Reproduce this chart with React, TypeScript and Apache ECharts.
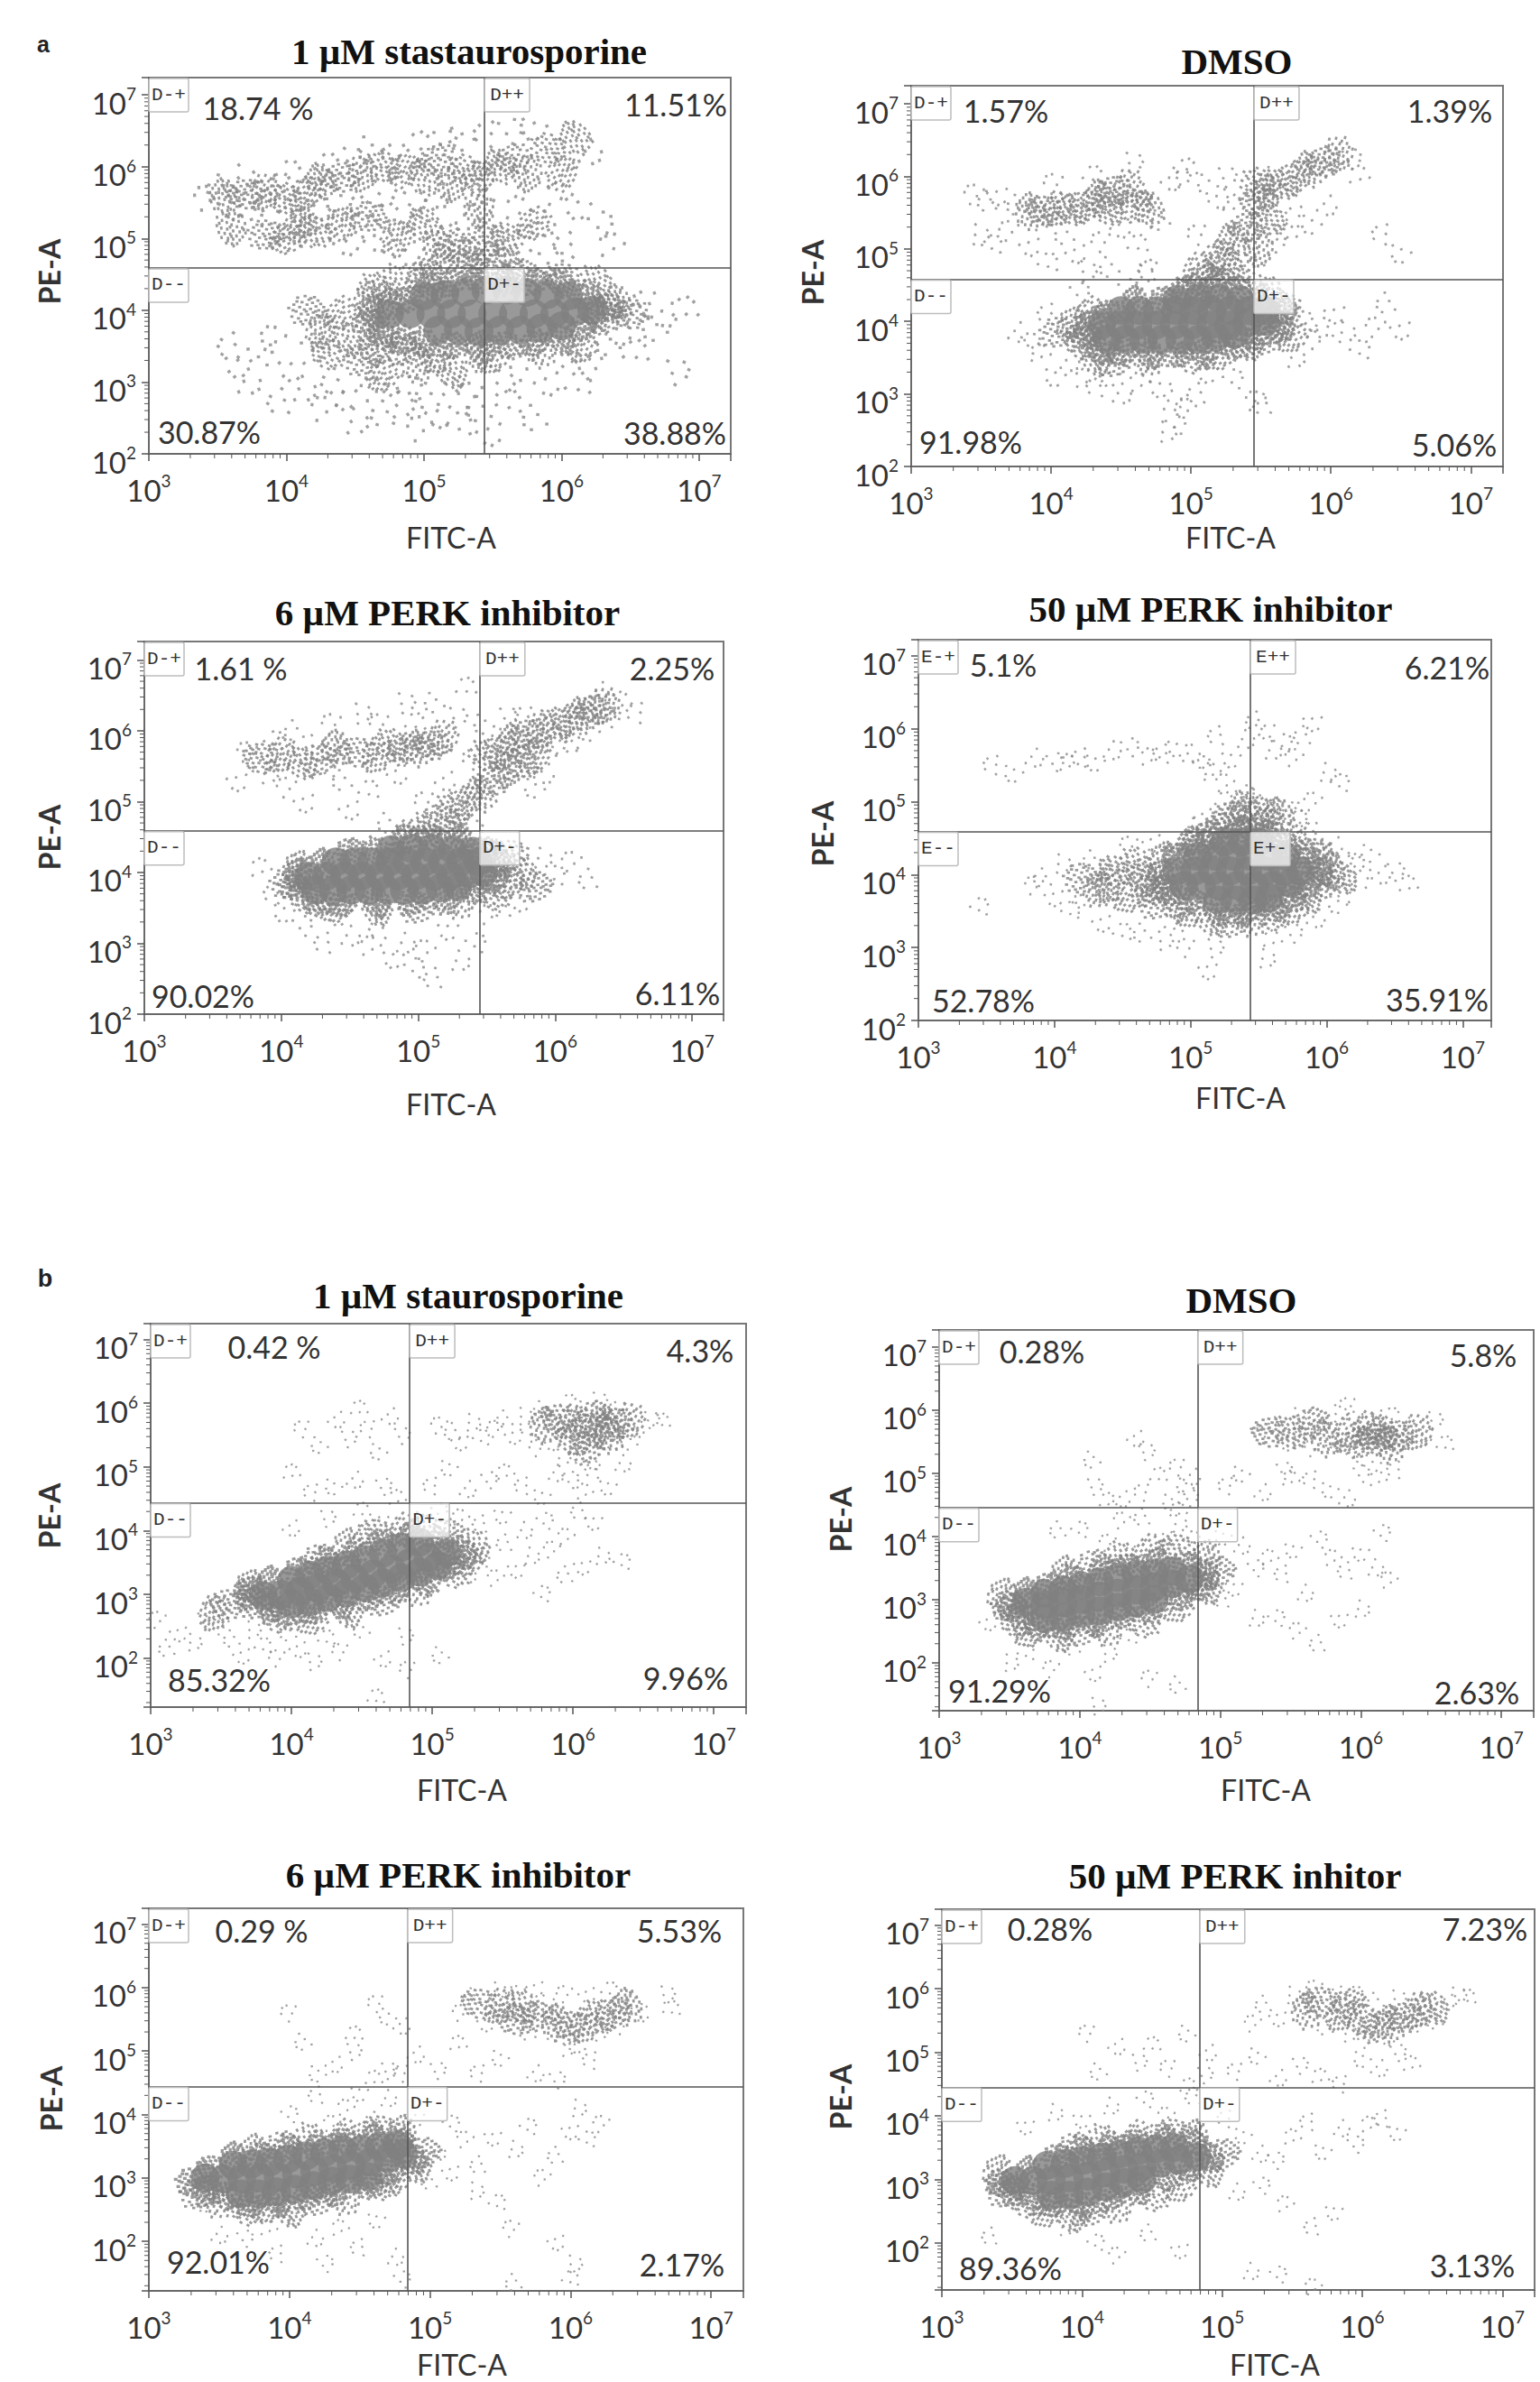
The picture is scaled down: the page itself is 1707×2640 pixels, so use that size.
import React, { useEffect, useRef } from "react";
import * as echarts from "echarts";

// All point lists are flat x,y pairs of 100*log10(intensity).
// "core" = solid parts of a population, "rim" = nearly solid edge of it, "mid" = dense speckled parts, "dots" = thin scatter.
const a1Core = [475,395,490,395,505,395,520,395,535,395,550,395,565,395,580,395,595,395,610,398,622,400,500,420,515,422,530,425,545,428,560,428,575,425,590,422,605,420,510,372,525,372,540,370,555,372,570,372,585,375,600,378];
const a1Rim = [460,385,462,400,470,365,485,358,500,355,520,352,540,350,560,352,580,355,600,360,615,375,625,395,635,405,618,420,600,437,580,440,560,442,540,442,520,438,505,432,488,415,475,410];
const a1Mid = [415,400,425,370,430,340,440,395,445,360,455,330,460,415,465,345,470,310,480,440,485,345,495,325,505,445,510,335,520,315,530,460,540,340,545,465,550,335,560,465,570,450,585,345,600,445,615,350,625,440,632,390,640,410,650,395,470,375,465,430,500,450,355,558,370,562,385,565,400,555,415,565,425,580,440,585,455,590,470,600,485,595,500,585,510,610,520,575,530,595,540,585,555,600,565,610,575,590,590,625,600,590,610,640,530,480,510,490,545,495,480,500,500,520,520,490,540,540,460,530,440,520,420,510,400,500,360,515,385,505,410,520,560,500,580,520];
const a1Dots = [342,556,352,570,361,545,368,585,375,532,378,560,386,548,392,578,398,520,402,590,408,542,414,505,418,568,424,530,430,600,433,515,438,555,444,495,447,610,452,540,456,520,461,625,466,500,470,565,474,530,479,615,484,510,488,480,492,550,497,630,501,525,506,470,510,560,514,635,519,500,523,485,527,640,532,530,537,465,541,555,546,645,551,510,556,480,562,650,568,540,574,500,580,655,586,520,592,470,598,560,604,490,612,545,620,620,628,520,636,490,360,350,365,325,372,300,381,340,390,360,396,272,404,320,412,290,420,350,427,262,435,300,442,280,450,245,458,370,463,290,471,255,476,300,483,268,490,290,497,235,503,280,511,255,518,300,526,240,534,282,541,262,548,230,556,300,562,270,572,320,581,250,590,300,603,340,612,295,622,320,634,355,642,370,650,395,654,340,661,410,668,375,675,395,683,315,690,400];

const a2Core = [440,375,453,375,466,375,479,375,492,375,505,375,518,378,531,382,436,395,449,395,462,395,475,395,488,395,501,395,514,395,527,395,540,398,553,400,450,415,463,415,476,415,489,415,502,415,515,415,528,415,541,415,553,415,490,430,505,432,520,432,535,430];
const a2Rim = [425,380,428,395,435,360,450,358,470,355,490,355,510,358,530,365,548,380,565,395,565,415,550,430,535,445,515,445,495,440,480,430,460,428,442,412];
const a2Mid = [405,385,415,395,422,370,428,410,432,350,445,345,470,350,500,350,520,355,540,370,552,375,560,395,566,420,572,380,555,440,500,445,515,450,530,460,505,470,525,480,510,460,385,552,395,553,405,555,415,555,425,560,435,570,445,580,455,585,440,555,460,560,470,555,548,565,555,580,565,590,575,600,585,610,595,620,605,630,548,590,520,490,530,510,540,530,548,500,555,540];
const a2Dots = [345,575,355,565,362,575,348,520,358,505,370,525,376,560,385,505,392,540,398,480,402,590,410,520,418,495,425,470,430,600,436,510,442,475,450,530,458,620,462,505,470,470,478,540,486,595,492,600,497,610,505,520,512,590,520,570,525,600,530,560,538,525,545,480,552,600,560,510,568,520,575,545,586,535,597,560,614,625,620,600,637,520,650,495,376,385,385,370,392,355,398,410,403,325,413,345,420,440,424,320,433,310,442,325,450,300,455,445,463,315,470,470,478,310,486,290,489,258,496,280,505,300,512,330,520,450,530,320,546,290,552,285,563,420,574,350,580,400,590,375,596,390,603,412,610,385,621,360,632,392,640,425,650,390,482,248];

const a3Core = [425,375,438,375,451,375,464,375,477,375,490,375,503,375,516,378,529,380,420,395,433,395,446,395,459,395,472,395,485,395,498,395,511,395,524,395,537,398,548,400,440,415,453,415,466,415,479,415,492,415,505,415,518,415,531,415,544,415,480,432,495,434,510,434,525,432,540,430];
const a3Rim = [410,380,412,398,425,358,445,358,470,358,495,358,520,362,540,375,555,392,560,412,548,432,530,446,510,450,490,446,470,430,450,430,430,412];
const a3Mid = [405,385,412,405,418,365,440,352,470,350,500,350,530,360,555,370,565,385,575,400,585,380,555,420,568,425,490,448,505,460,515,475,525,445,385,562,400,565,415,555,428,560,440,575,455,570,470,565,480,580,490,575,500,575,510,580,518,590,550,565,560,572,570,585,580,595,590,600,600,610,610,615,620,622,628,630,636,635,525,490,535,500,545,510,555,530,565,545,575,555,585,565];
const a3Dots = [375,570,383,555,368,530,390,540,395,585,404,520,410,600,417,500,425,580,432,545,437,610,445,530,450,490,458,625,464,515,472,610,478,470,485,540,490,640,498,610,505,500,512,640,520,530,528,620,535,660,540,560,548,610,556,590,565,620,570,540,578,620,585,520,592,540,600,580,608,575,615,590,625,600,632,655,640,620,648,640,660,625,520,470,530,480,540,460,385,405,395,370,402,345,408,410,415,325,425,385,432,300,442,340,450,310,458,430,465,295,472,320,482,280,490,300,497,265,505,290,512,250,522,320,530,275,542,300,552,340,562,350,575,360,590,420,600,395,612,415,625,390];

const a4Core = [495,385,508,385,521,385,534,385,547,385,560,385,573,388,490,405,503,405,516,405,529,405,542,405,555,405,568,405,581,405,505,425,518,425,531,425,544,425,557,425,570,425,525,445,538,445,550,445,520,365,533,365,546,365,558,368];
const a4Rim = [480,380,478,400,490,425,500,445,515,455,535,460,555,455,570,440,585,420,595,405,585,385,575,370,560,355,540,350,520,350,500,365];
const a4Mid = [420,395,432,380,445,405,455,370,465,395,475,360,480,420,485,380,500,350,515,340,530,335,545,340,560,345,575,355,585,370,595,385,603,405,590,430,575,445,560,450,515,445,505,440,525,465,535,475,545,460,555,470,565,480,530,480,440,385,460,415,470,380,490,360,505,430,596,420,610,395,550,485,540,490];
const a4Dots = [385,385,392,395,400,370,405,415,412,350,420,360,428,420,435,335,442,400,450,320,455,440,465,320,472,445,480,310,488,330,497,300,505,465,510,480,517,300,525,500,540,490,550,505,558,495,570,490,580,475,588,460,596,445,605,440,612,420,620,415,628,395,632,430,640,400,650,405,660,385,615,375,608,360,592,340,575,320,560,310,355,550,370,540,385,560,400,555,410,552,420,560,430,555,442,570,455,575,470,560,480,565,490,575,500,565,508,550,515,540,520,590,530,560,540,585,540,510,525,525,548,610,555,600,560,570,568,580,576,560,583,590,590,610,600,540,610,525,590,500,580,485,513,270,555,285,345,355];

const b1Core = [380,298,393,300,406,305,419,310,432,318,445,325,458,332,471,340,484,350,497,358,510,365,400,322,413,330,426,338,439,346,452,355,465,365,478,374,491,382,400,285,413,288,426,295,439,302,452,310,465,318,478,326,491,335,504,345];
const b1Rim = [370,295,385,280,395,270,415,275,435,285,455,295,475,310,495,320,512,345,522,365,505,380,485,392,465,382,445,365,425,352,405,338,385,320,372,308];
const b1Mid = [375,285,370,310,390,265,415,262,440,275,465,290,490,310,515,335,525,355,530,375,420,355,440,375,460,395,480,400,495,402,510,395,580,565,590,575,600,570,610,560,615,580,622,565,630,570,640,572,600,545,610,530,625,550,355,285,345,270];
const b1Dots = [505,565,515,555,520,540,528,570,535,545,545,560,552,575,558,550,565,580,570,555,575,530,578,590,585,540,592,515,597,600,603,520,608,590,614,510,618,605,625,535,632,590,640,540,645,560,655,575,663,570,408,560,420,535,432,575,440,545,448,590,455,560,462,525,470,580,478,550,400,490,415,460,430,470,445,480,465,470,475,450,500,470,512,500,525,465,540,480,552,490,565,470,578,455,588,490,598,480,608,460,615,495,625,470,635,505,505,430,520,420,535,410,550,425,565,400,580,415,595,390,605,430,615,415,525,330,535,355,545,325,552,380,560,340,570,360,578,300,585,370,595,330,607,345,620,360,635,350,305,260,312,215,320,240,330,225,340,270,350,250,358,230,365,205,372,245,380,218,390,200,398,240,405,215,415,195,425,230,435,210,450,245,465,200,480,235,460,137,483,182,506,205,400,405,425,420,450,430,465,410];

const b2Core = [375,310,388,315,401,322,414,328,427,335,440,340,453,342,466,345,362,296,375,292,388,295,401,300,414,305,427,310,440,315,453,320,466,325,478,332,375,270,388,272,401,278,414,282,427,288,440,295,453,300];
const b2Rim = [352,290,358,275,370,258,390,258,410,265,430,275,450,285,470,305,485,320,490,340,475,355,455,358,435,352,415,345,395,332,378,322,362,310];
const b2Mid = [350,290,345,305,355,265,365,250,385,245,400,250,420,255,445,265,470,290,490,320,498,345,490,365,470,380,450,375,430,365,410,355,390,340,610,555,605,570,615,565,600,550,620,545,625,560,590,560,550,565,565,580,575,555,535,565,640,565];
const b2Dots = [530,560,540,575,548,550,555,590,560,565,566,540,572,580,578,555,584,595,590,535,596,585,603,525,610,590,616,530,622,590,630,540,637,575,645,560,652,585,660,545,591,607,409,522,440,556,447,535,456,495,470,510,475,480,430,460,410,480,420,455,445,470,465,455,480,495,478,462,470,440,505,480,515,500,530,470,545,505,550,490,565,490,578,475,590,460,600,500,612,490,625,505,502,400,515,385,525,350,535,365,545,340,552,380,560,310,570,395,580,365,590,345,600,375,610,350,615,405,620,330,502,300,510,320,525,270,540,270,555,250,570,230,585,270,600,285,400,410,430,425,445,430,460,400,470,420,480,395,420,390,385,410,440,380,350,200,362,215,380,190,395,225,410,185,420,215,435,240,450,175,470,165,335,265,412,132];

const b3Core = [340,300,353,298,366,298,379,300,392,302,405,306,418,310,431,315,444,320,457,325,470,330,481,338,360,320,373,322,386,325,399,330,412,335,425,340,438,345,451,345,464,350,477,352,365,275,378,275,391,278,404,282,417,288,430,295,443,298,456,302];
const b3Rim = [330,295,340,280,355,272,372,260,392,262,412,270,432,280,455,288,472,310,488,330,478,358,460,362,440,358,420,350,400,345,380,335,360,332,345,315];
const b3Mid = [335,275,350,265,370,250,385,255,400,250,420,265,440,270,465,290,475,300,490,320,495,340,480,370,465,375,440,365,415,360,395,350,375,340,535,575,550,570,565,570,575,555,590,545,600,540,610,540,620,555,630,560,640,570,560,550];
const b3Dots = [522,560,530,585,540,545,548,595,556,555,562,590,570,530,575,600,583,575,590,520,596,590,605,510,612,590,620,530,628,595,636,540,645,580,650,560,668,590,672,565,400,560,410,515,432,480,445,500,446,525,462,575,470,555,480,540,470,470,460,455,480,465,420,465,490,495,505,470,520,510,535,465,550,490,575,465,590,455,600,500,615,485,340,260,350,210,368,205,385,220,392,180,405,240,418,205,425,165,436,220,450,190,462,235,475,175,480,140,440,410,420,430,450,435,470,425,400,400,430,385,460,390,490,395,505,340,515,385,525,360,535,320,545,365,560,345,570,380,580,300,590,335,600,375,605,410,612,360,622,385,500,295,515,310,532,280,548,260,558,220,560,135,590,200,602,165,600,140];

const b4Core = [352,298,365,298,378,298,391,302,404,305,417,310,430,316,443,320,456,325,469,330,482,335,375,322,388,325,401,330,414,335,427,340,440,345,453,348,466,350,378,275,391,275,404,280,417,288,430,295,443,300];
const b4Rim = [342,295,350,282,365,272,380,262,400,260,420,272,440,285,460,305,478,318,492,335,478,358,460,360,440,358,420,352,400,345,382,335,362,312];
const b4Mid = [345,280,340,310,360,265,375,250,392,245,405,250,425,260,450,275,470,290,490,315,500,340,480,365,465,372,440,365,415,360,395,350,560,565,570,580,585,560,600,550,610,540,620,545,630,555,640,565,650,570,590,575];
const b4Dots = [522,545,530,575,540,555,550,590,558,565,566,600,574,540,580,595,590,530,595,590,603,520,610,580,618,525,625,585,634,540,643,575,652,550,660,580,668,590,675,585,404,530,412,470,425,510,440,485,450,510,462,475,475,530,490,500,487,465,476,445,510,470,525,495,540,460,555,480,570,460,585,450,600,490,612,475,625,500,635,480,503,395,515,370,527,340,538,330,550,365,562,390,572,345,585,380,595,355,605,385,615,395,625,375,510,280,528,290,545,260,565,225,580,250,520,155,540,150,565,130,335,210,400,395,420,415,445,425,460,400,480,430,360,385,380,405,410,200,425,180,448,215,470,190,388,225];

// Printed values and labels of each panel, in the order top-left, top-right, bottom-left, bottom-right.
const panelTitles = ["1 µM stastaurosporine","DMSO","6 µM PERK inhibitor","50 µM PERK inhibitor","1 µM staurosporine","DMSO","6 µM PERK inhibitor","50 µM PERK inhitor"];
const panelPercents = [
  ["18.74 %","11.51%","30.87%","38.88%"],["1.57%","1.39%","91.98%","5.06%"],
  ["1.61 %","2.25%","90.02%","6.11%"],["5.1%","6.21%","52.78%","35.91%"],
  ["0.42 %","4.3%","85.32%","9.96%"],["0.28%","5.8%","91.29%","2.63%"],
  ["0.29 %","5.53%","92.01%","2.17%"],["0.28%","7.23%","89.36%","3.13%"],
];
const gateLetters = ["D","D","D","E","D","D","D","D"];
const gateSuffixes = ["-+","++","--","+-"];
const gateX = [5.44,5.45,5.45,5.44,4.84,4.84,4.84,4.84];
const gateY = [4.59,4.58,4.59,4.59,4.44,4.46,4.44,4.45];
const xAxisMaxExp = [7.23,7.23,7.23,7.21,7.23,7.23,7.23,7.23];
const yAxisMinExp = [2,2,2,2,1.23,1.24,1.22,1.26];
const yAxisMaxExp = [7.24,7.25,7.26,7.22,7.25,7.27,7.25,7.25];
const xAxisName = "FITC-A";
const yAxisName = "PE-A";
const minorMultipliers = [2,3,4,5,6,7,8,9];
const decades = [1,2,3,4,5,6,7];

const coreLists = [a1Core,a2Core,a3Core,a4Core,b1Core,b2Core,b3Core,b4Core];
const rimLists = [a1Rim,a2Rim,a3Rim,a4Rim,b1Rim,b2Rim,b3Rim,b4Rim];
const midLists = [a1Mid,a2Mid,a3Mid,a4Mid,b1Mid,b2Mid,b3Mid,b4Mid];
const dotLists = [a1Dots,a2Dots,a3Dots,a4Dots,b1Dots,b2Dots,b3Dots,b4Dots];

// Layout in page pixels: plot frame [left, top, right, bottom].
const frames = [[165,86,810,503],[1010,95,1666,517],[160,711,802,1124],[1018,709,1653,1131],[167,1467,827,1892],[1041,1474,1700,1896],[165,2115,824,2539],[1044,2116,1701,2538]];
const titlePos = [[520,57],[1371,68],[496,679],[1342,675],[519,1436],[1376,1441],[508,2078],[1369,2079]];
const xNamePos = [[500,595],[1364,595],[500,1223],[1375,1216],[512,1983],[1403,1983],[512,2620],[1413,2620]];
const yNamePos = [[54,301],[900,302],[54,928],[911,924],[54,1680],[931,1684],[56,2326],[931,2324]];
const percentPos = [
  [[286,119],[749,115],[232,478],[748,479]],[[1115,122],[1607,122],[1076,489],[1612,492]],
  [[267,740],[745,740],[225,1103],[751,1100]],[[1112,736],[1604,739],[1090,1108],[1593,1107]],
  [[304,1492],[776,1496],[243,1861],[760,1859]],[[1155,1497],[1644,1501],[1108,1873],[1637,1875]],
  [[290,2139],[753,2139],[242,2506],[756,2509]],[[1164,2137],[1646,2137],[1120,2513],[1632,2510]],
];
const sparseSizes = [30,24,24,22,20,20,20,20];
const GREY = "#7f7f7f";
const SANS = "Lato";

// Marker shapes: a speckled patch stands for many events at once.
const denseSpecks = [[3,41],[11,68],[16,30],[18,88],[22,52],[26,8],[28,74],[31,38],[35,60],[37,22],[39,93],[43,46],[45,3],[47,80],[50,30],[52,62],[55,14],[57,90],[59,44],[62,72],[64,24],[66,55],[69,6],[71,84],[73,36],[76,64],[78,17],[80,48],[85,28],[87,72],[91,54],[93,38],[14,48],[24,20],[34,84],[48,52],[60,10],[72,52],[82,66],[97,50]];
const sparseSpecks = [[4,38],[20,12],[30,88],[48,8],[62,55],[94,28]];
const speckPath = (specks: number[][], s: number) => "path://" + specks.map(([x, y]) => `M${x} ${y}h${s}v${s}h-${s}z`).join("");
const DENSE_SYMBOL = speckPath(denseSpecks, 8);
const RIM_SYMBOL = speckPath(denseSpecks, 11);
const SPARSE_SYMBOL = speckPath(sparseSpecks, 11);
const turn = (_: any, p: any) => (p.dataIndex * 73) % 360;

const toPoints = (flat: number[]) => {
  const out: number[][] = [];
  for (let i = 0; i + 1 < flat.length; i += 2) out.push([Math.pow(10, flat[i] / 100), Math.pow(10, flat[i + 1] / 100)]);
  return out;
};

const minorValues = (lo: number, hi: number) => {
  const out: number[] = [];
  decades.forEach((d) => minorMultipliers.forEach((m) => {
    const v = m * Math.pow(10, d);
    if (v > lo && v < hi) out.push(v);
  }));
  return out;
};

const labelFormatter = (v: number) => {
  const e = Math.log10(v);
  if (Math.abs(e - Math.round(e)) > 0.01) return "";
  return `{b|10}{s|${Math.round(e)}}`;
};

const buildOption = () => {
  const grid: any[] = [], xAxis: any[] = [], yAxis: any[] = [], series: any[] = [], elements: any[] = [];
  const text = (x: number, y: number, t: string, style: any, extra: any = {}) => elements.push({
    type: "text", x, y, z: 100, ...extra,
    style: { text: t, align: "center", verticalAlign: "middle", textAlign: "center", textVerticalAlign: "middle", ...style },
  });
  frames.forEach((f, i) => {
    const [l, t, r, b] = f;
    grid.push({ left: l, top: t, width: r - l, height: b - t, show: true, borderColor: "#777", borderWidth: 2, backgroundColor: "#fff" });
    const xMin = 1000, xMax = Math.pow(10, xAxisMaxExp[i]);
    const yMin = Math.pow(10, yAxisMinExp[i]), yMax = Math.pow(10, yAxisMaxExp[i]);
    const axisBase = {
      type: "log", logBase: 10, gridIndex: i,
      splitLine: { show: false }, minorTick: { show: false },
      axisLine: { show: true, onZero: false, lineStyle: { color: "#666", width: 1.5 } },
      axisTick: { show: true, length: 8, lineStyle: { color: "#555", width: 1.5 } },
    };
    const rich = {
      b: { fontFamily: SANS, fontSize: 33, color: "#333", verticalAlign: "bottom", lineHeight: 36 },
      s: { fontFamily: SANS, fontSize: 19, color: "#333", verticalAlign: "top", lineHeight: 36, padding: [0, 0, 14, 0] },
    };
    xAxis.push({ ...axisBase, min: xMin, max: xMax, axisLabel: { margin: 20, formatter: labelFormatter, rich, showMinLabel: true, hideOverlap: false } });
    yAxis.push({ ...axisBase, min: yMin, max: yMax, axisLabel: { margin: 14, formatter: labelFormatter, rich, showMinLabel: true, hideOverlap: false, padding: [14, 0, 0, 0] } });
    const common = { type: "scatter", xAxisIndex: i, yAxisIndex: i, silent: true };
    const sparseSize = sparseSizes[i];
    series.push({ ...common, name: `mid ${i}`, data: toPoints(midLists[i]), symbol: DENSE_SYMBOL, symbolSize: [44, 34], symbolRotate: turn, z: 2, itemStyle: { color: "#808080" } });
    series.push({ ...common, name: `rim ${i}`, data: toPoints(rimLists[i]), symbol: RIM_SYMBOL, symbolSize: [38, 30], symbolRotate: turn, z: 2, itemStyle: { color: GREY } });
    series.push({ ...common, name: `core ${i}`, data: toPoints(coreLists[i]), symbolSize: 32, z: 2, itemStyle: { color: GREY } });
    series.push({
      ...common, name: `dots ${i}`, data: toPoints(dotLists[i]), symbol: SPARSE_SYMBOL, symbolSize: [sparseSize, sparseSize], symbolRotate: turn, z: 3, itemStyle: { color: "#8a8a8a" },
      markLine: {
        silent: true, symbol: "none", label: { show: false }, animation: false,
        lineStyle: { color: "#555", width: 1.6, type: "solid" },
        data: [{ xAxis: Math.pow(10, gateX[i]) }, { yAxis: Math.pow(10, gateY[i]) }],
      },
    });
    series.push({
      type: "custom", xAxisIndex: i, yAxisIndex: i, silent: true, clip: false, z: 4,
      data: minorValues(xMin, xMax).map((v) => [v, yMin]),
      renderItem: (_: any, api: any) => {
        const p = api.coord([api.value(0), api.value(1)]);
        return { type: "line", shape: { x1: p[0], y1: p[1], x2: p[0], y2: p[1] + 5 }, style: { stroke: "#555", lineWidth: 1 } };
      },
    });
    series.push({
      type: "custom", xAxisIndex: i, yAxisIndex: i, silent: true, clip: false, z: 4,
      data: minorValues(yMin, yMax).map((v) => [xMin, v]),
      renderItem: (_: any, api: any) => {
        const p = api.coord([api.value(0), api.value(1)]);
        return { type: "line", shape: { x1: p[0] - 5, y1: p[1], x2: p[0], y2: p[1] }, style: { stroke: "#555", lineWidth: 1 } };
      },
    });
    text(titlePos[i][0], titlePos[i][1], panelTitles[i], { fontFamily: "Liberation Serif", fontWeight: "bold", fontSize: 41, fill: "#111" });
    text(xNamePos[i][0], xNamePos[i][1], xAxisName, { fontFamily: SANS, fontSize: 32, fill: "#333" });
    text(yNamePos[i][0], yNamePos[i][1], yAxisName, { fontFamily: SANS, fontWeight: "bold", fontSize: 32, fill: "#333" }, { rotation: Math.PI / 2 });
    percentPos[i].forEach((p, k) => text(p[0], p[1], panelPercents[i][k], { fontFamily: SANS, fontSize: 34, fill: "#333" }));
    // Gate tags sit at the top-left corner of each quadrant.
    const xg = l + ((gateX[i] - 3) / (xAxisMaxExp[i] - 3)) * (r - l);
    const yg = t + ((yAxisMaxExp[i] - gateY[i]) / (yAxisMaxExp[i] - yAxisMinExp[i])) * (b - t);
    const tags = [[l, t + 1, 44], [xg, t + 1, 50], [l, yg + 1, 44], [xg, yg + 1, 44]];
    tags.forEach((g, k) => {
      elements.push({
        type: "rect", z: 90, shape: { x: g[0], y: g[1], width: g[2], height: 37, r: 2 },
        style: { fill: "rgba(255,255,255,0.72)", stroke: "#bdbdbd", lineWidth: 1.5 },
      });
      text(g[0] + g[2] / 2, g[1] + 18, gateLetters[i] + gateSuffixes[k], { fontFamily: "Liberation Mono", fontSize: 21, fill: "#333" });
    });
  });
  text(48, 49, "a", { fontFamily: "Liberation Sans", fontWeight: "bold", fontSize: 25, fill: "#222" });
  text(50, 1417, "b", { fontFamily: "Liberation Sans", fontWeight: "bold", fontSize: 27, fill: "#222" });
  return { animation: false, backgroundColor: "#fff", tooltip: { show: false }, grid, xAxis, yAxis, series, graphic: { elements } };
};

export default function App() {
  const ref = useRef<HTMLDivElement>(null);
  useEffect(() => {
    document.body.style.margin = "0";
    const chart = echarts.init(ref.current!, undefined, { renderer: "svg" });
    chart.setOption(buildOption() as any);
    return () => chart.dispose();
  }, []);
  return <div ref={ref} style={{ width: 1707, height: 2640 }} />;
}
